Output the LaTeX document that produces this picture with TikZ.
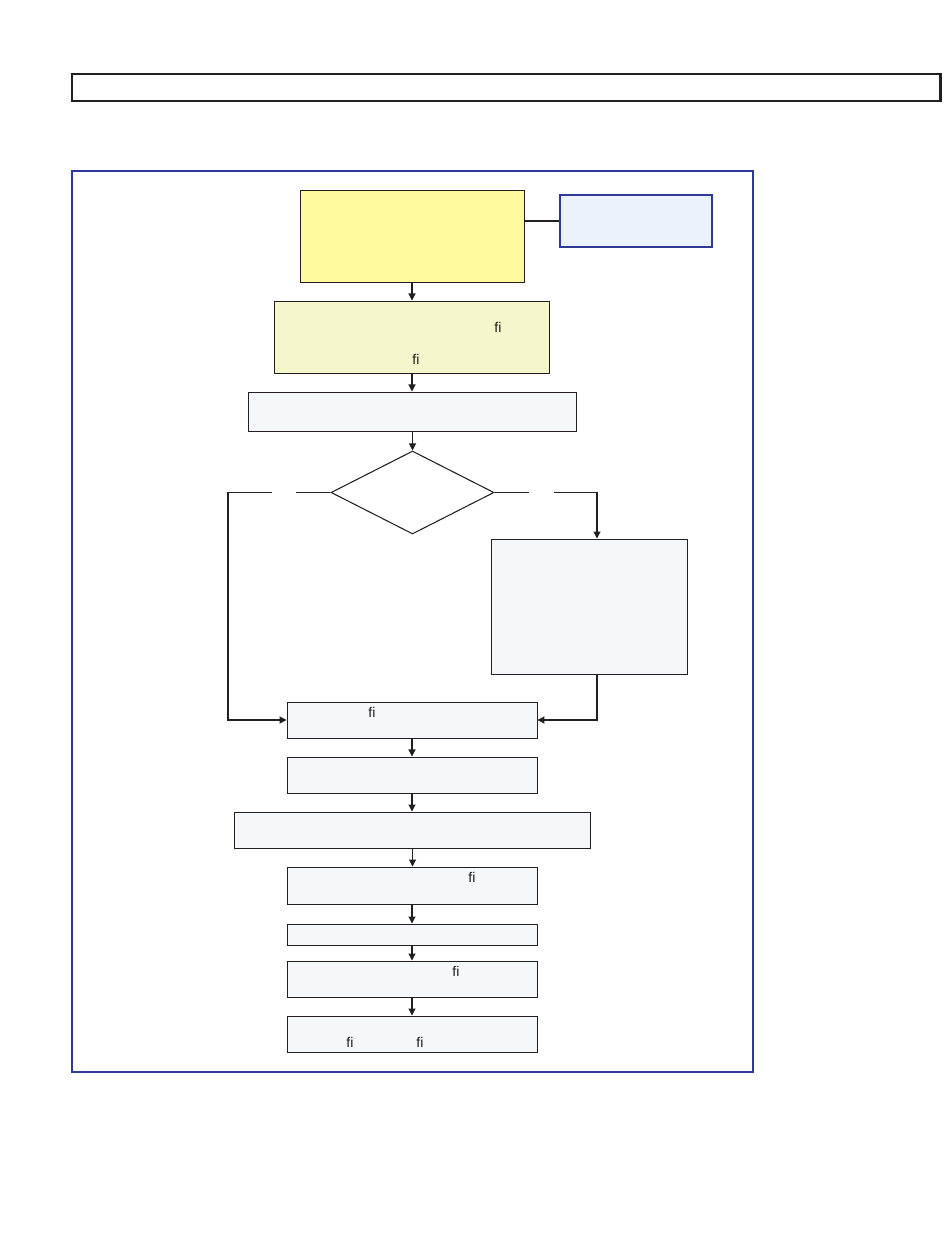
\documentclass[tikz,border=0pt]{standalone}
\usepackage{fontspec}
\setmainfont{Liberation Sans}
\usetikzlibrary{arrows.meta,shapes.geometric}

\definecolor{linec}{RGB}{35,31,32}
\definecolor{frameblue}{RGB}{46,58,154}
\definecolor{yelfill}{RGB}{253,249,156}
\definecolor{paleyel}{RGB}{245,246,203}
\definecolor{boxfill}{RGB}{244,248,251}
\definecolor{sidefill}{RGB}{235,242,250}

\tikzset{
  box/.style={draw=linec, fill=boxfill, line width=0.55pt, inner sep=0pt},
  lig/.style={text=linec, font=\fontsize{8}{9}\selectfont, inner sep=0pt},
}

\begin{document}
\begin{tikzpicture}[x=0.02cm, y=-0.02cm, >={Triangle[length=4pt,width=4pt]}, line width=0.6pt, draw=linec]

        \useasboundingbox (0,0) rectangle (950,1260);

        % --- Верхняя рамка и общая рамка схемы ---
        \draw[linec, line width=1.7pt] (72,74) rectangle (940,101);
        \draw[frameblue, line width=1.1pt] (72,171) rectangle (753,1072);

        % --- Начальный блок и примечание ---
        \node[box, fill=yelfill, minimum width=44.8mm, minimum height=18.4mm] (yel) at (412,236) {};
        \node[box, draw=frameblue, fill=sidefill, line width=1.1pt,
              minimum width=30.4mm, minimum height=10.4mm] (side) at (636,221) {};
        \draw[linec] (side.west -| yel.east) -- (side.west);

        % --- Блоки до ветвления ---
        \node[box, fill=paleyel, minimum width=55.2mm, minimum height=14.4mm] (b2) at (412,337) {};
        \node[lig] (b2fa) at (498,327) {fi};
        \node[lig] (b2fb) at (416,359) {fi};
        \node[box, minimum width=65.8mm, minimum height=7.8mm] (b3) at (412.5,411.5) {};

        % --- Ветвление ---
        \node[draw=linec, fill=white, diamond, inner sep=0pt, line width=0.6pt,
              minimum width=32.6mm, minimum height=16.6mm] (dia) at (412.5,492.5) {};
        \node[box, minimum width=39.2mm, minimum height=27mm] (rbox) at (589,606.5) {};

        % --- Нижняя цепочка ---
        \node[box, minimum width=50mm, minimum height=7.2mm] (b4) at (412,720) {};
        \node[lig] (b4f) at (372,712) {fi};
        \node[box, minimum width=50mm, minimum height=7.2mm] (b5) at (412,775) {};
        \node[box, minimum width=71.4mm, minimum height=7.2mm] (b6) at (412.5,830) {};
        \node[box, minimum width=50mm, minimum height=7.4mm] (b7) at (412,885.5) {};
        \node[lig] (b7f) at (472,877) {fi};
        \node[box, minimum width=50mm, minimum height=4.2mm] (b8) at (412,934.5) {};
        \node[box, minimum width=50mm, minimum height=7.2mm] (b9) at (412,979) {};
        \node[lig] (b9f) at (456,971) {fi};
        \node[box, minimum width=50mm, minimum height=7.2mm] (b10) at (412,1034) {};
        \node[lig] (b10fa) at (350,1042) {fi};
        \node[lig] (b10fb) at (420,1042) {fi};

        % --- Стрелки по вертикали ---
        \draw[->] (yel.south) -- (b2.north);
        \draw[->] (b2.south) -- (b2.south |- b3.north);
        \draw[->] (b3.south) -- (dia.north);
        \draw[->] (b4.south) -- (b5.north);
        \draw[->] (b5.south) -- (b5.south |- b6.north);
        \draw[->] (b6.south) -- (b6.south |- b7.north);
        \draw[->] (b7.south) -- (b8.north);
        \draw[->] (b8.south) -- (b9.north);
        \draw[->] (b9.south) -- (b10.north);

        % --- Ветви (с разрывами под подписи) ---
        \coordinate (lgapa) at (296,492.5);
        \coordinate (lgapb) at (272,492.5);
        \coordinate (lcol)  at (228,492.5);
        \coordinate (rgapa) at (529,492.5);
        \coordinate (rgapb) at (554,492.5);
        \coordinate (rcol)  at (597,492.5);

        \draw (dia.west) -- (lgapa);
        \draw[->] (lgapb) -- (lcol) |- (b4.west);
        \draw (dia.east) -- (rgapa);
        \draw[->] (rgapb) -- (rcol) -- (rcol |- rbox.north);
        \draw[->] (rcol |- rbox.south) |- (b4.east);

    \end{tikzpicture}
\end{document}
